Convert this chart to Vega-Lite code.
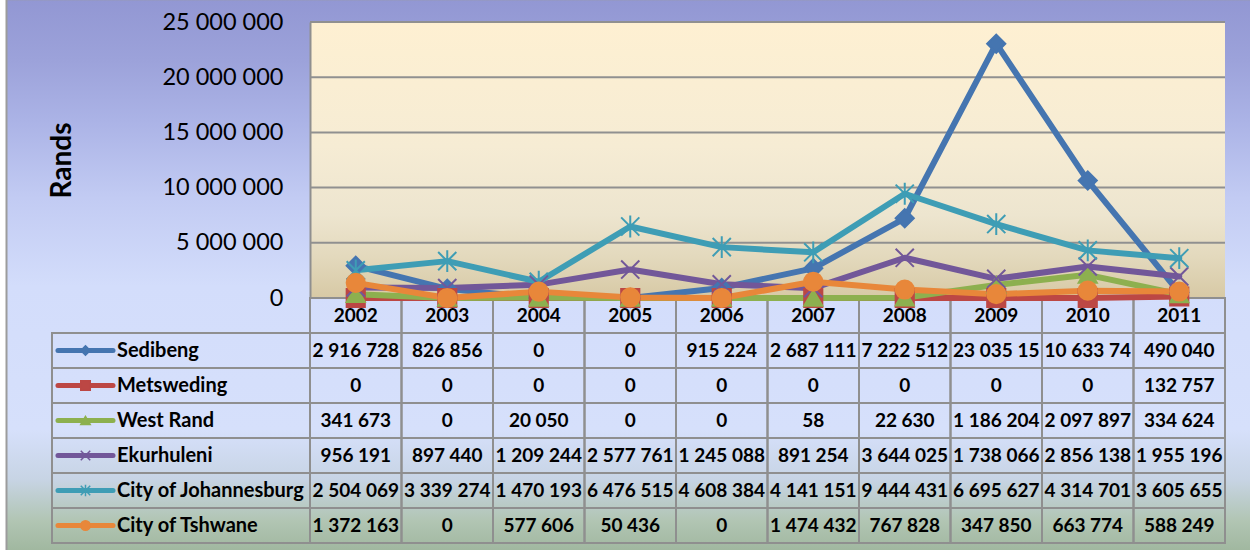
{
  "$schema": "https://vega.github.io/schema/vega-lite/v6.json",
  "width": 915,
  "height": 521,
  "autosize": {"type": "none"},
  "padding": {"left": 310, "top": 22, "right": 25, "bottom": 7},
  "background": "#ffffff",
  "config": {
    "view": {"stroke": null},
    "font": "Lato",
    "locale": {"number": {"decimal": ".", "thousands": " ", "grouping": [3], "currency": ["", ""]}}
  },
  "datasets": {
    "d": [
      {"s": "Sedibeng", "year": 2002, "v": 2916728, "t": "2 916 728"},
      {"s": "Sedibeng", "year": 2003, "v": 826856, "t": "826 856"},
      {"s": "Sedibeng", "year": 2004, "v": 0, "t": "0"},
      {"s": "Sedibeng", "year": 2005, "v": 0, "t": "0"},
      {"s": "Sedibeng", "year": 2006, "v": 915224, "t": "915 224"},
      {"s": "Sedibeng", "year": 2007, "v": 2687111, "t": "2 687 111"},
      {"s": "Sedibeng", "year": 2008, "v": 7222512, "t": "7 222 512"},
      {"s": "Sedibeng", "year": 2009, "v": 23035150, "t": "23 035 15"},
      {"s": "Sedibeng", "year": 2010, "v": 10633740, "t": "10 633 74"},
      {"s": "Sedibeng", "year": 2011, "v": 490040, "t": "490 040"},
      {"s": "Metsweding", "year": 2002, "v": 0, "t": "0"},
      {"s": "Metsweding", "year": 2003, "v": 0, "t": "0"},
      {"s": "Metsweding", "year": 2004, "v": 0, "t": "0"},
      {"s": "Metsweding", "year": 2005, "v": 0, "t": "0"},
      {"s": "Metsweding", "year": 2006, "v": 0, "t": "0"},
      {"s": "Metsweding", "year": 2007, "v": 0, "t": "0"},
      {"s": "Metsweding", "year": 2008, "v": 0, "t": "0"},
      {"s": "Metsweding", "year": 2009, "v": 0, "t": "0"},
      {"s": "Metsweding", "year": 2010, "v": 0, "t": "0"},
      {"s": "Metsweding", "year": 2011, "v": 132757, "t": "132 757"},
      {"s": "West Rand", "year": 2002, "v": 341673, "t": "341 673"},
      {"s": "West Rand", "year": 2003, "v": 0, "t": "0"},
      {"s": "West Rand", "year": 2004, "v": 20050, "t": "20 050"},
      {"s": "West Rand", "year": 2005, "v": 0, "t": "0"},
      {"s": "West Rand", "year": 2006, "v": 0, "t": "0"},
      {"s": "West Rand", "year": 2007, "v": 58, "t": "58"},
      {"s": "West Rand", "year": 2008, "v": 22630, "t": "22 630"},
      {"s": "West Rand", "year": 2009, "v": 1186204, "t": "1 186 204"},
      {"s": "West Rand", "year": 2010, "v": 2097897, "t": "2 097 897"},
      {"s": "West Rand", "year": 2011, "v": 334624, "t": "334 624"},
      {"s": "Ekurhuleni", "year": 2002, "v": 956191, "t": "956 191"},
      {"s": "Ekurhuleni", "year": 2003, "v": 897440, "t": "897 440"},
      {"s": "Ekurhuleni", "year": 2004, "v": 1209244, "t": "1 209 244"},
      {"s": "Ekurhuleni", "year": 2005, "v": 2577761, "t": "2 577 761"},
      {"s": "Ekurhuleni", "year": 2006, "v": 1245088, "t": "1 245 088"},
      {"s": "Ekurhuleni", "year": 2007, "v": 891254, "t": "891 254"},
      {"s": "Ekurhuleni", "year": 2008, "v": 3644025, "t": "3 644 025"},
      {"s": "Ekurhuleni", "year": 2009, "v": 1738066, "t": "1 738 066"},
      {"s": "Ekurhuleni", "year": 2010, "v": 2856138, "t": "2 856 138"},
      {"s": "Ekurhuleni", "year": 2011, "v": 1955196, "t": "1 955 196"},
      {"s": "City of Johannesburg", "year": 2002, "v": 2504069, "t": "2 504 069"},
      {"s": "City of Johannesburg", "year": 2003, "v": 3339274, "t": "3 339 274"},
      {"s": "City of Johannesburg", "year": 2004, "v": 1470193, "t": "1 470 193"},
      {"s": "City of Johannesburg", "year": 2005, "v": 6476515, "t": "6 476 515"},
      {"s": "City of Johannesburg", "year": 2006, "v": 4608384, "t": "4 608 384"},
      {"s": "City of Johannesburg", "year": 2007, "v": 4141151, "t": "4 141 151"},
      {"s": "City of Johannesburg", "year": 2008, "v": 9444431, "t": "9 444 431"},
      {"s": "City of Johannesburg", "year": 2009, "v": 6695627, "t": "6 695 627"},
      {"s": "City of Johannesburg", "year": 2010, "v": 4314701, "t": "4 314 701"},
      {"s": "City of Johannesburg", "year": 2011, "v": 3605655, "t": "3 605 655"},
      {"s": "City of Tshwane", "year": 2002, "v": 1372163, "t": "1 372 163"},
      {"s": "City of Tshwane", "year": 2003, "v": 0, "t": "0"},
      {"s": "City of Tshwane", "year": 2004, "v": 577606, "t": "577 606"},
      {"s": "City of Tshwane", "year": 2005, "v": 50436, "t": "50 436"},
      {"s": "City of Tshwane", "year": 2006, "v": 0, "t": "0"},
      {"s": "City of Tshwane", "year": 2007, "v": 1474432, "t": "1 474 432"},
      {"s": "City of Tshwane", "year": 2008, "v": 767828, "t": "767 828"},
      {"s": "City of Tshwane", "year": 2009, "v": 347850, "t": "347 850"},
      {"s": "City of Tshwane", "year": 2010, "v": 663774, "t": "663 774"},
      {"s": "City of Tshwane", "year": 2011, "v": 588249, "t": "588 249"}
    ],
    "grid": [{"g": 5000000}, {"g": 10000000}, {"g": 15000000}, {"g": 20000000}, {"g": 25000000}]
  },
  "layer": [
    {
      "data": {"values": [{}]},
      "layer": [
        {
          "mark": {
            "type": "rect",
            "stroke": "#9c9c9c",
            "strokeWidth": 2,
            "fill": {
              "gradient": "linear", "x1": 0, "y1": 0, "x2": 0, "y2": 1,
              "stops": [
                {"offset": 0, "color": "#9297d3"},
                {"offset": 0.11, "color": "#9ca2da"},
                {"offset": 0.22, "color": "#abb3e6"},
                {"offset": 0.36, "color": "#c2cbf3"},
                {"offset": 0.52, "color": "#d3ddfb"},
                {"offset": 0.78, "color": "#d6e0fb"},
                {"offset": 0.87, "color": "#c7d4e4"},
                {"offset": 0.945, "color": "#b1c5b3"},
                {"offset": 1, "color": "#a0b79f"}
              ]
            }
          },
          "encoding": {
            "x": {"datum": 1998.1831, "type": "quantitative", "scale": {"domain": [2001.5, 2011.5], "nice": false, "zero": false}, "axis": null},
            "x2": {"datum": 2013.5},
            "y": {"datum": 27050000, "type": "quantitative", "scale": {"domain": [0, 25000000], "range": [276, 0], "nice": false, "zero": false}, "axis": null},
            "y2": {"datum": -22950000}
          }
        },
        {
          "mark": {
            "type": "rect",
            "fill": {
              "gradient": "linear", "x1": 0, "y1": 0, "x2": 0, "y2": 1,
              "stops": [
                {"offset": 0, "color": "#fef0d2"},
                {"offset": 0.45, "color": "#f6ecd4"},
                {"offset": 0.7, "color": "#ede5cf"},
                {"offset": 0.85, "color": "#e3d9bd"},
                {"offset": 1, "color": "#d7c9a5"}
              ]
            }
          },
          "encoding": {
            "x": {"datum": 2001.5, "type": "quantitative", "scale": {"domain": [2001.5, 2011.5], "nice": false, "zero": false}, "axis": null},
            "x2": {"datum": 2011.5},
            "y": {"datum": 0, "type": "quantitative", "scale": {"domain": [0, 25000000], "range": [276, 0], "nice": false, "zero": false}, "axis": null},
            "y2": {"datum": 25000000}
          }
        }
      ]
    },
    {
      "data": {"name": "d"},
      "transform": [
        {"calculate": "datum.year - 0.5", "as": "xa"},
        {"calculate": "datum.year + 0.5", "as": "xb"}
      ],
      "layer": [
        {
          "transform": [{"filter": "datum.s === 'Sedibeng'"}],
          "mark": {"type": "rect", "filled": false, "stroke": "#8f8f8f", "strokeWidth": 2},
          "encoding": {
            "x": {"field": "xa", "type": "quantitative", "scale": {"domain": [2001.5, 2011.5], "nice": false, "zero": false}, "axis": null},
            "x2": {"field": "xb"},
            "y": {"datum": "hdr", "type": "nominal", "scale": {"domain": ["hdr", "Sedibeng", "Metsweding", "West Rand", "Ekurhuleni", "City of Johannesburg", "City of Tshwane"], "range": [276, 521], "paddingInner": 0, "paddingOuter": 0}, "axis": null}
          }
        },
        {
          "mark": {"type": "rect", "filled": false, "stroke": "#8f8f8f", "strokeWidth": 2},
          "encoding": {
            "x": {"field": "xa", "type": "quantitative", "scale": {"domain": [2001.5, 2011.5], "nice": false, "zero": false}, "axis": null},
            "x2": {"field": "xb"},
            "y": {"field": "s", "type": "nominal", "axis": null}
          }
        },
        {
          "transform": [{"filter": "datum.year === 2002"}],
          "mark": {"type": "rect", "filled": false, "stroke": "#8f8f8f", "strokeWidth": 2},
          "encoding": {
            "x": {"datum": 1998.6803, "type": "quantitative", "scale": {"domain": [2001.5, 2011.5], "nice": false, "zero": false}, "axis": null},
            "x2": {"datum": 2001.5},
            "y": {"field": "s", "type": "nominal", "axis": null}
          }
        },
        {
          "transform": [{"filter": "datum.s === 'Sedibeng'"}],
          "mark": {"type": "text", "font": "Lato", "fontWeight": "bold", "fontSize": 19, "color": "#000000", "align": "center", "baseline": "middle"},
          "encoding": {
            "x": {"field": "year", "type": "quantitative", "scale": {"domain": [2001.5, 2011.5], "nice": false, "zero": false}, "axis": null},
            "y": {"datum": "hdr", "type": "nominal", "axis": null},
            "text": {"field": "year", "type": "nominal"}
          }
        },
        {
          "mark": {"type": "text", "font": "Lato", "fontWeight": "bold", "fontSize": 19, "color": "#000000", "align": "center", "baseline": "middle"},
          "encoding": {
            "x": {"field": "year", "type": "quantitative", "scale": {"domain": [2001.5, 2011.5], "nice": false, "zero": false}, "axis": null},
            "y": {"field": "s", "type": "nominal", "axis": null},
            "text": {"field": "t", "type": "nominal"}
          }
        },
        {
          "transform": [{"filter": "datum.year === 2002"}],
          "mark": {"type": "rule", "strokeWidth": 5, "strokeCap": "round"},
          "encoding": {
            "x": {"datum": 1998.7459, "type": "quantitative", "scale": {"domain": [2001.5, 2011.5], "nice": false, "zero": false}, "axis": null},
            "x2": {"datum": 1999.347},
            "y": {"field": "s", "type": "nominal", "axis": null},
            "color": {"field": "s", "type": "nominal", "legend": null,
              "scale": {"domain": ["Sedibeng", "Metsweding", "West Rand", "Ekurhuleni", "City of Johannesburg", "City of Tshwane"],
                        "range": ["#4575b0", "#bc4744", "#8db04f", "#725799", "#3e9db5", "#e8873a"]}}
          }
        },
        {
          "transform": [{"filter": "datum.year === 2002"}],
          "mark": {"type": "point", "filled": true, "size": 90, "strokeWidth": 1.5, "opacity": 1},
          "encoding": {
            "x": {"datum": 1999.0464, "type": "quantitative", "scale": {"domain": [2001.5, 2011.5], "nice": false, "zero": false}, "axis": null},
            "y": {"field": "s", "type": "nominal", "axis": null},
            "color": {"field": "s", "type": "nominal", "legend": null},
            "stroke": {"field": "s", "type": "nominal", "legend": null,
              "scale": {"domain": ["Sedibeng", "Metsweding", "West Rand", "Ekurhuleni", "City of Johannesburg", "City of Tshwane"],
                        "range": ["#4575b0", "#bc4744", "#8db04f", "#725799", "#3e9db5", "#e8873a"]}},
            "shape": {"field": "s", "type": "nominal", "legend": null,
              "scale": {"domain": ["Sedibeng", "Metsweding", "West Rand", "Ekurhuleni", "City of Johannesburg", "City of Tshwane"],
                        "range": ["diamond", "square", "triangle-up", "M-1,-1L1,1M1,-1L-1,1", "M-1,-1L1,1M1,-1L-1,1M0,-1.2L0,1.2", "circle"]}}
          }
        },
        {
          "transform": [{"filter": "datum.year === 2002"}],
          "mark": {"type": "text", "font": "Lato", "fontWeight": "bold", "fontSize": 20, "color": "#000000", "align": "left", "baseline": "middle"},
          "encoding": {
            "x": {"datum": 1999.3907, "type": "quantitative", "scale": {"domain": [2001.5, 2011.5], "nice": false, "zero": false}, "axis": null},
            "y": {"field": "s", "type": "nominal", "axis": null},
            "text": {"field": "s", "type": "nominal"}
          }
        }
      ]
    },
    {
      "layer": [
        {
          "data": {"name": "grid"},
          "mark": {"type": "rule", "color": "#909090", "strokeWidth": 2},
          "encoding": {
            "x": {"datum": 2001.5, "type": "quantitative", "scale": {"domain": [2001.5, 2011.5], "nice": false, "zero": false}, "axis": null},
            "x2": {"datum": 2011.5},
            "y": {"field": "g", "type": "quantitative",
              "scale": {"domain": [0, 25000000], "range": [276, 0], "nice": false, "zero": false},
              "axis": {
                "orient": "left", "zindex": 1, "values": [0, 5000000, 10000000, 15000000, 20000000, 25000000],
                "format": ",d", "grid": false, "ticks": false, "domain": true, "domainColor": "#8f8f8f", "domainWidth": 2,
                "labelFont": "Lato", "labelFontSize": 23.5, "labelColor": "#000000", "labelPadding": 27,
                "title": "Rands", "titleFont": "Lato", "titleFontSize": 28, "titleFontWeight": "bold", "titleColor": "#000000",
                "titleAngle": -90, "titleAlign": "center", "titleBaseline": "middle", "titleX": -248, "titleY": 138
              }
            }
          }
        },
        {
          "data": {"name": "d"},
          "mark": {"type": "line", "strokeWidth": 6, "strokeCap": "round", "strokeJoin": "round"},
          "encoding": {
            "x": {"field": "year", "type": "quantitative", "scale": {"domain": [2001.5, 2011.5], "nice": false, "zero": false}, "axis": null},
            "y": {"field": "v", "type": "quantitative"},
            "color": {"field": "s", "type": "nominal", "legend": null, "sort": null}
          }
        },
        {
          "data": {"name": "d"},
          "mark": {"type": "point", "filled": true, "size": 330, "strokeWidth": 2, "opacity": 1},
          "encoding": {
            "x": {"field": "year", "type": "quantitative", "scale": {"domain": [2001.5, 2011.5], "nice": false, "zero": false}, "axis": null},
            "y": {"field": "v", "type": "quantitative"},
            "color": {"field": "s", "type": "nominal", "legend": null},
            "stroke": {"field": "s", "type": "nominal", "legend": null},
            "shape": {"field": "s", "type": "nominal", "legend": null}
          }
        }
      ]
    }
  ],
  "resolve": {"scale": {"y": "independent"}}
}
